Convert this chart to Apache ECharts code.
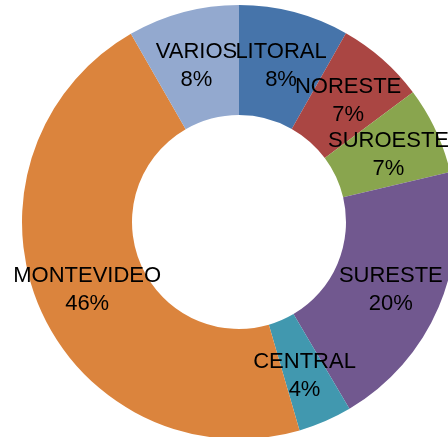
<!DOCTYPE html>
<html>
<head>
<meta charset="utf-8">
<script src="https://cdn.jsdelivr.net/npm/echarts@6/dist/echarts.min.js"></script>
<style>
html,body{margin:0;padding:0;background:#fff;}
#chart{width:448px;height:437px;}
</style>
</head>
<body>
<div id="chart"></div>
<script>
var categories = ['LITORAL', 'NORESTE', 'SUROESTE', 'SURESTE', 'CENTRAL', 'MONTEVIDEO', 'VARIOS'];
var values = [8.2, 6.6, 6.5, 20.2, 4.0, 46.2, 8.3];
var colors = ['#4674AA', '#AA4643', '#89A54E', '#71588F', '#4198AF', '#DB843D', '#93A9CF'];

var chart = echarts.init(document.getElementById('chart'), null, {renderer: 'canvas'});
chart.setOption({
  animation: false,
  backgroundColor: '#ffffff',
  series: [{
    type: 'pie',
    center: [239, 222],
    radius: [107, 217],
    startAngle: 90,
    clockwise: true,
    percentPrecision: 0,
    avoidLabelOverlap: false,
    labelLayout: {hideOverlap: false},
    label: {
      show: true,
      position: 'inside',
      formatter: '{b}\n{d}%',
      color: '#000000',
      fontFamily: 'Liberation Sans, Arial, sans-serif',
      fontSize: 22,
      lineHeight: 28,
      align: 'center',
      offset: [0, 3]
    },
    labelLine: {show: false},
    itemStyle: {borderWidth: 0},
    emphasis: {disabled: true},
    data: categories.map(function (c, i) {
      return {name: c, value: values[i], itemStyle: {color: colors[i]}};
    })
  }]
});
</script>
</body>
</html>
